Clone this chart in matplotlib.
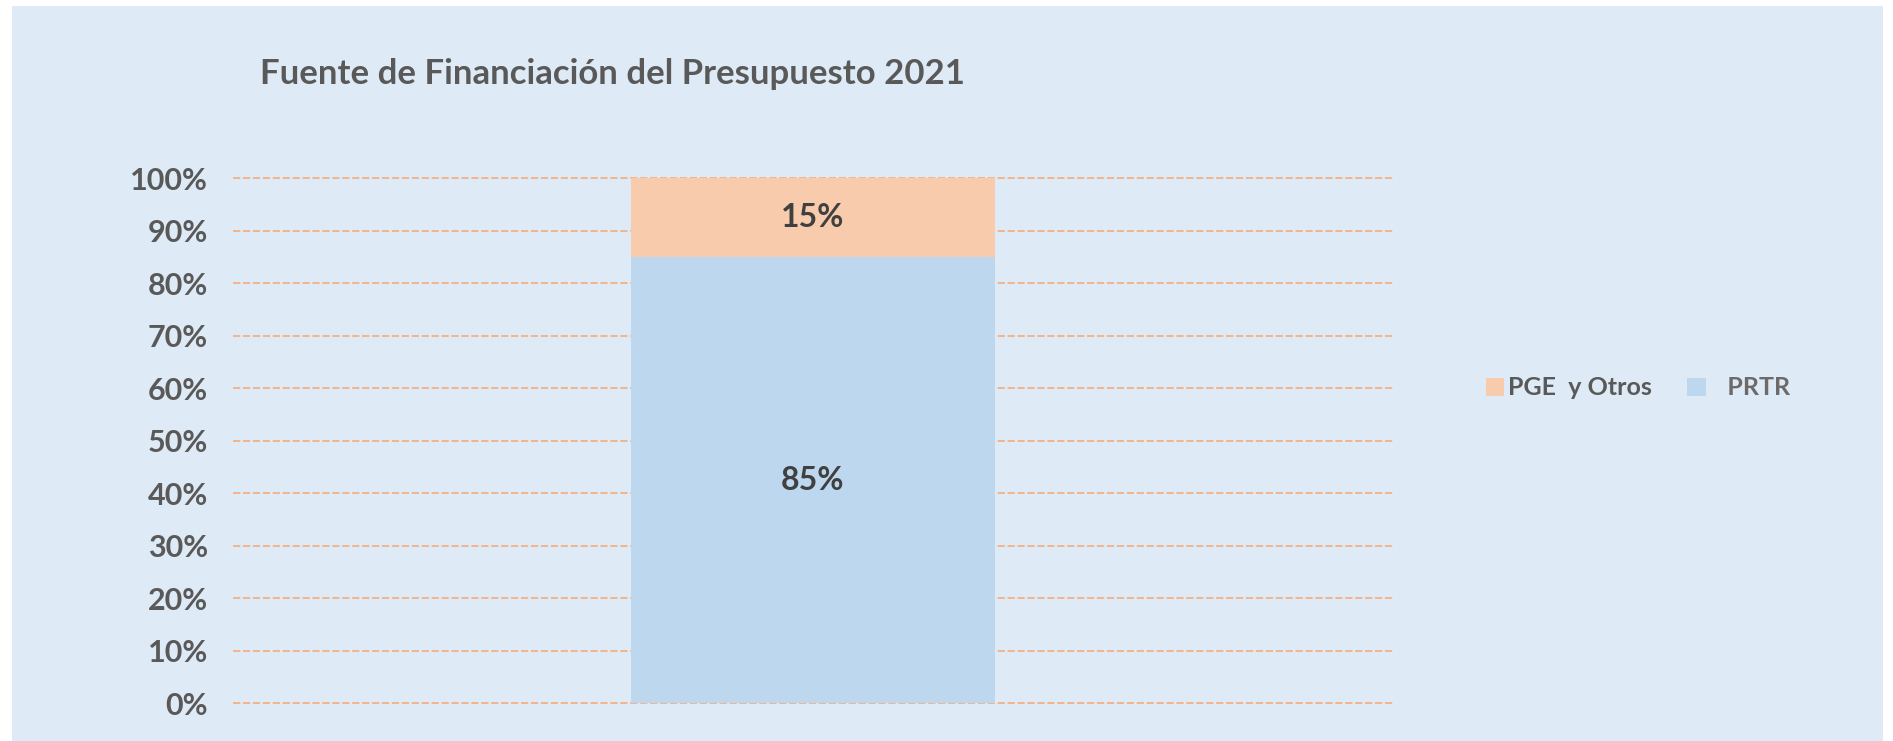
import matplotlib.pyplot as plt
from matplotlib.patches import Rectangle

# Data
categories = ["2021"]
prtr = [85]
pge_otros = [15]
series_names = ["PGE  y Otros", "   PRTR"]
y_ticks = [0, 10, 20, 30, 40, 50, 60, 70, 80, 90, 100]

bg = "#DEEAF5"
blue = "#BDD7EE"
orange = "#F8CBAD"
grid_col = "#F4B183"
text_col = "#595959"

plt.rcParams["font.family"] = ["Lato", "DejaVu Sans"]

fig = plt.figure(figsize=(18.93, 7.41), dpi=100)
fig.patch.set_facecolor("white")

# light blue panel behind the chart
fig.patches.append(Rectangle((12 / 1893, 0), (1883 - 12) / 1893, 1 - 6 / 741,
                             transform=fig.transFigure, facecolor=bg,
                             edgecolor="none", zorder=-10))

ax = fig.add_axes([233 / 1893, 37.7 / 741, 1160 / 1893, 525 / 741])
ax.set_facecolor("none")

x = range(len(categories))
b1 = ax.bar(x, prtr, width=0.314, color=blue, zorder=2)
b2 = ax.bar(x, pge_otros, bottom=prtr, width=0.314, color=orange, zorder=2)

ax.set_xlim(-0.5, 0.5)
ax.set_ylim(0, 100)
ax.set_yticks(y_ticks)
ax.set_yticklabels([f"{v}%" for v in y_ticks], fontsize=22,
                   fontweight="bold", color=text_col)
ax.set_xticks([])
ax.tick_params(axis="y", length=0, pad=18)
for s in ax.spines.values():
    s.set_visible(False)
ax.yaxis.grid(True, color=grid_col, linestyle=(0, (4, 1.5)), linewidth=1.3,
              zorder=1)
for gl in ax.get_ygridlines():
    gl.set_clip_on(False)
ax.set_axisbelow(True)

# bar labels
for bars, vals, bots in [(b1, prtr, [0] * len(prtr)), (b2, pge_otros, prtr)]:
    for p, v, b in zip(bars, vals, bots):
        ax.text(p.get_x() + p.get_width() / 2, b + v / 2, f"{v}%",
                ha="center", va="center", fontsize=23, fontweight="bold",
                color="#404040", zorder=3)

fig.text(260 / 1893, 1 - 74 / 741, "Fuente de Financiación del Presupuesto 2021",
         fontsize=25, fontweight="bold", color=text_col, va="center", ha="left")

# legend
leg = fig.legend([b2[0], b1[0]], series_names, loc="center left",
                 bbox_to_anchor=(1463 / 1893, 1 - 388 / 741), ncol=2,
                 frameon=False, handlelength=0.75,
                 handleheight=0.75, handletextpad=0.15, columnspacing=1.4,
                 prop={"weight": "bold", "size": 18})
for t, c in zip(leg.get_texts(), [text_col, "#6E6A6A"]):
    t.set_color(c)

fig.savefig("out.png", dpi=100)
